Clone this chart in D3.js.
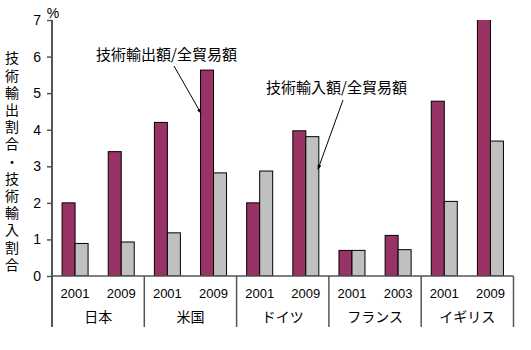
<!DOCTYPE html>
<html><head><meta charset="utf-8">
<script src="https://cdn.jsdelivr.net/npm/d3@7"></script>
<style>
html,body{margin:0;padding:0;background:#fff;}
svg{display:block;}
text{font-family:"Liberation Sans",Arial,sans-serif;fill:#000;}
.jp{font-family:"Noto Sans CJK JP","Noto Sans CJK SC",sans-serif;}
</style></head>
<body>
<svg id="chart" width="531" height="350"></svg>
<script>
// Countries and the years shown for each
const countries = ["日本", "米国", "ドイツ", "フランス", "イギリス"];
const years = [["2001","2009"],["2001","2009"],["2001","2009"],["2001","2003"],["2001","2009"]];
// Technology export / total trade (%)
const exportShare = [2.0, 3.4, 4.2, 5.63, 2.0, 3.97, 0.7, 1.11, 4.78, 7.3];
// Technology import / total trade (%)
const importShare = [0.89, 0.93, 1.18, 2.82, 2.87, 3.81, 0.7, 0.72, 2.04, 3.69];
const yTicks = [0, 1, 2, 3, 4, 5, 6, 7];
const yTitle = "技術輸出割合・技術輸入割合";
const exportLabel = "技術輸出額/全貿易額";
const importLabel = "技術輸入額/全貿易額";

const svg = d3.select("#chart");
const plotLeft = 52, plotRight = 513.5, plotTop = 20, plotBottom = 276, axisFoot = 327;

const cats = [];
years.forEach((ys, i) => ys.forEach(yr => cats.push(i + "-" + yr)));

const x = d3.scaleBand().domain(cats).range([plotLeft, plotRight]).paddingInner(0).paddingOuter(0);
const y = d3.scaleLinear().domain([0, 7]).range([plotBottom, plotTop]);
const barW = 13;

const defs = svg.append("defs");
defs.append("clipPath").attr("id", "plot")
  .append("rect").attr("x", plotLeft).attr("y", plotTop)
  .attr("width", plotRight - plotLeft).attr("height", plotBottom - plotTop);

const bars = svg.append("g").attr("clip-path", "url(#plot)");
bars.selectAll("rect.exp").data(exportShare).join("rect")
  .attr("class", "exp")
  .attr("x", (d, i) => x(cats[i]) + x.bandwidth() / 2 - barW)
  .attr("y", d => y(d))
  .attr("width", barW)
  .attr("height", d => y(0) - y(d))
  .attr("fill", "#993366").attr("stroke", "#000").attr("stroke-width", 1);
bars.selectAll("rect.imp").data(importShare).join("rect")
  .attr("class", "imp")
  .attr("x", (d, i) => x(cats[i]) + x.bandwidth() / 2)
  .attr("y", d => y(d))
  .attr("width", barW)
  .attr("height", d => y(0) - y(d))
  .attr("fill", "#c0c0c0").attr("stroke", "#000").attr("stroke-width", 1);

// Y axis
const yAxis = svg.append("g").attr("transform", `translate(${plotLeft},0)`)
  .call(d3.axisLeft(y).tickValues(yTicks).tickSize(5).tickPadding(6).tickFormat(d3.format("d")));
yAxis.select(".domain").remove();
yAxis.selectAll(".tick line").attr("stroke", "#555").attr("stroke-width", 1.5);
yAxis.selectAll(".tick text").attr("font-size", 14).attr("font-family", "Liberation Sans, Arial, sans-serif").attr("fill", "#000");

svg.append("line").attr("x1", plotLeft).attr("x2", plotLeft).attr("y1", plotTop).attr("y2", axisFoot)
  .attr("stroke", "#555").attr("stroke-width", 2);
svg.append("line").attr("x1", plotLeft).attr("x2", plotRight).attr("y1", plotBottom).attr("y2", plotBottom)
  .attr("stroke", "#555").attr("stroke-width", 1.5);

// Group separators under the axis
const groupW = (plotRight - plotLeft) / countries.length;
const sepX = d3.range(1, countries.length + 1).map(i => plotLeft + i * groupW);
svg.selectAll("line.sep").data(sepX).join("line")
  .attr("class", "sep")
  .attr("x1", d => d).attr("x2", d => d).attr("y1", plotBottom).attr("y2", axisFoot)
  .attr("stroke", "#555").attr("stroke-width", 1.5);

// Year labels
svg.selectAll("text.yr").data(cats).join("text")
  .attr("class", "yr")
  .attr("x", d => x(d) + x.bandwidth() / 2)
  .attr("y", 298)
  .attr("text-anchor", "middle").attr("font-size", 13)
  .text(d => d.split("-")[1]);

// Country labels
svg.selectAll("text.ctry").data(countries).join("text")
  .attr("class", "ctry jp")
  .attr("x", (d, i) => plotLeft + (i + 0.5) * groupW)
  .attr("y", 322)
  .attr("text-anchor", "middle").attr("font-size", 14)
  .text(d => d);

// Unit
svg.append("text").attr("x", 53).attr("y", 18).attr("text-anchor", "middle")
  .attr("font-size", 14).text("%");

// Vertical axis title, set upright in vertical writing mode
svg.append("text")
  .attr("class", "jp")
  .attr("x", 12)
  .attr("y", 51)
  .attr("font-size", 14)
  .style("writing-mode", "vertical-rl")
  .style("text-orientation", "upright")
  .style("letter-spacing", "3.2px")
  .text(yTitle);

// Series annotations with leader arrows
defs.append("marker").attr("id", "arr")
  .attr("viewBox", "0 0 10 10").attr("refX", 9).attr("refY", 5)
  .attr("markerWidth", 5).attr("markerHeight", 5).attr("orient", "auto")
  .append("path").attr("d", "M0,1 L10,5 L0,9 Z").attr("fill", "#000");

svg.append("text").attr("class", "jp").attr("x", 96).attr("y", 60)
  .attr("font-size", 15).text(exportLabel);
svg.append("line").attr("x1", 174).attr("y1", 66).attr("x2", 201).attr("y2", y(4.45))
  .attr("stroke", "#000").attr("stroke-width", 1).attr("marker-end", "url(#arr)");

svg.append("text").attr("class", "jp").attr("x", 266).attr("y", 93)
  .attr("font-size", 15).text(importLabel);
svg.append("line").attr("x1", 343).attr("y1", 100).attr("x2", 318).attr("y2", y(2.92))
  .attr("stroke", "#000").attr("stroke-width", 1).attr("marker-end", "url(#arr)");
</script>
</body></html>
